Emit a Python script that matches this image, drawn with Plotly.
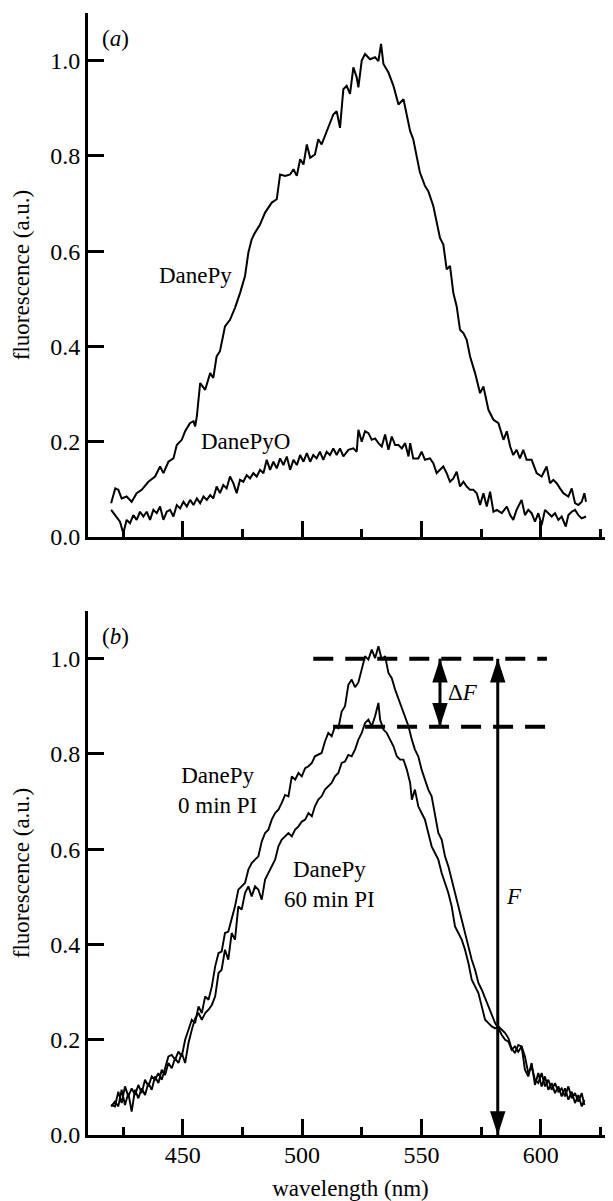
import plotly.graph_objects as go

# ---------------- data ----------------
# panel (a): DanePy
a_danepy_nm = [420.0, 421.7, 423.0, 424.4, 426.5, 428.6, 430.7, 432.8, 435.6, 438.4, 440.5, 441.9, 444.0, 446.1,
               447.5, 449.6, 451.0, 453.0, 454.5, 455.2, 455.9, 457.3, 459.4, 461.5, 462.8, 464.2, 465.6, 467.7,
               469.8, 471.9, 474.0, 476.1, 477.5, 478.9, 480.3, 482.4, 484.5, 487.3, 489.4, 490.8, 492.9, 495.0,
               496.4, 497.8, 499.2, 500.6, 502.0, 503.4, 505.4, 506.8, 508.2, 509.6, 511.0, 513.1, 514.5, 515.9,
               517.3, 518.7, 520.1, 521.5, 522.9, 523.6, 525.0, 526.4, 528.5, 530.6, 532.0, 533.1, 534.1, 536.2,
               538.3, 540.4, 542.5, 543.9, 545.3, 546.6, 548.0, 549.4, 551.5, 552.9, 555.0, 556.4, 557.8, 559.2,
               560.6, 562.0, 563.4, 564.8, 566.2, 567.6, 569.0, 570.4, 572.5, 574.6, 576.0, 578.1, 580.2, 582.3,
               584.4, 585.8, 587.2, 588.5, 589.9, 591.3, 592.7, 594.1, 596.2, 598.3, 600.4, 602.5, 603.9, 605.3,
               606.7, 608.1, 609.5, 611.6, 613.0, 614.4, 615.8, 617.2, 618.3, 619.0]
a_danepy_val = [0.071, 0.102, 0.099, 0.081, 0.085, 0.074, 0.092, 0.099, 0.116, 0.127, 0.148, 0.134, 0.158, 0.165,
                0.193, 0.204, 0.222, 0.239, 0.243, 0.232, 0.253, 0.323, 0.309, 0.344, 0.334, 0.379, 0.390, 0.442,
                0.456, 0.481, 0.512, 0.548, 0.597, 0.625, 0.639, 0.656, 0.681, 0.702, 0.709, 0.761, 0.758, 0.761,
                0.772, 0.758, 0.793, 0.782, 0.824, 0.796, 0.803, 0.835, 0.824, 0.842, 0.863, 0.887, 0.894, 0.859,
                0.940, 0.947, 0.930, 0.986, 0.965, 0.944, 1.000, 1.014, 1.003, 1.007, 0.999, 1.035, 0.993, 0.975,
                0.947, 0.908, 0.919, 0.887, 0.852, 0.835, 0.803, 0.765, 0.737, 0.726, 0.695, 0.663, 0.628, 0.614,
                0.562, 0.569, 0.512, 0.484, 0.435, 0.428, 0.414, 0.379, 0.344, 0.302, 0.316, 0.267, 0.246, 0.239,
                0.204, 0.222, 0.190, 0.172, 0.183, 0.165, 0.183, 0.162, 0.162, 0.134, 0.127, 0.148, 0.113, 0.120,
                0.113, 0.102, 0.092, 0.085, 0.102, 0.071, 0.067, 0.074, 0.092, 0.074]

# panel (a): DanePyO
a_danepyo_nm = [420.0, 421.0, 422.3, 423.7, 425.1, 426.5, 427.9, 429.3, 430.7, 432.1, 433.5, 434.9, 436.3, 437.7,
                439.1, 440.5, 441.9, 443.3, 444.7, 446.1, 447.5, 448.9, 450.3, 451.7, 453.1, 454.5, 455.9, 457.3,
                458.7, 460.1, 461.5, 462.8, 464.2, 465.6, 467.0, 468.4, 469.8, 471.2, 472.6, 474.0, 475.4, 476.8,
                478.2, 479.6, 481.0, 482.4, 483.8, 485.2, 486.6, 488.0, 489.4, 490.8, 492.2, 493.6, 495.0, 496.4,
                497.8, 499.2, 500.6, 502.0, 503.4, 504.7, 506.1, 507.5, 508.9, 510.3, 511.7, 513.1, 514.5, 515.9,
                517.3, 519.4, 521.5, 522.9, 523.6, 525.0, 526.4, 527.8, 529.2, 530.6, 532.0, 533.4, 534.8, 536.2,
                537.6, 539.0, 540.4, 541.8, 543.2, 544.6, 545.3, 546.6, 548.7, 550.1, 551.5, 553.6, 555.0, 556.4,
                557.8, 559.2, 560.6, 562.0, 563.4, 564.8, 566.2, 567.6, 569.0, 570.4, 571.8, 573.2, 574.6, 576.0,
                577.4, 578.8, 580.2, 581.6, 583.7, 585.8, 587.2, 588.5, 589.9, 592.0, 593.4, 594.8, 596.2, 597.6,
                599.0, 600.4, 601.8, 603.2, 604.6, 606.0, 607.4, 608.8, 610.5, 611.6, 613.0, 614.4, 615.8, 617.2,
                619.0]
a_danepyo_val = [0.057, 0.050, 0.043, 0.032, 0.008, 0.036, 0.029, 0.046, 0.036, 0.053, 0.043, 0.053, 0.036, 0.057,
                 0.050, 0.064, 0.036, 0.053, 0.057, 0.043, 0.067, 0.060, 0.074, 0.064, 0.078, 0.067, 0.081, 0.071,
                 0.085, 0.078, 0.088, 0.081, 0.106, 0.092, 0.109, 0.102, 0.127, 0.113, 0.092, 0.120, 0.116, 0.130,
                 0.123, 0.134, 0.127, 0.141, 0.134, 0.162, 0.141, 0.158, 0.144, 0.165, 0.151, 0.169, 0.141, 0.162,
                 0.151, 0.172, 0.158, 0.176, 0.158, 0.172, 0.165, 0.179, 0.162, 0.179, 0.172, 0.186, 0.172, 0.186,
                 0.169, 0.183, 0.186, 0.179, 0.225, 0.200, 0.222, 0.218, 0.204, 0.207, 0.197, 0.190, 0.215, 0.183,
                 0.211, 0.193, 0.193, 0.186, 0.197, 0.169, 0.197, 0.165, 0.165, 0.179, 0.162, 0.165, 0.155, 0.134,
                 0.141, 0.148, 0.134, 0.116, 0.123, 0.137, 0.106, 0.116, 0.106, 0.099, 0.099, 0.092, 0.067, 0.092,
                 0.064, 0.095, 0.053, 0.057, 0.050, 0.064, 0.046, 0.036, 0.057, 0.078, 0.046, 0.057, 0.050, 0.032,
                 0.050, 0.025, 0.057, 0.050, 0.043, 0.050, 0.036, 0.043, 0.022, 0.046, 0.053, 0.057, 0.046, 0.039,
                 0.043]

# panel (b): DanePy, 0 min PI
b_0min_nm = [420.0, 421.6, 423.0, 424.4, 425.8, 427.2, 428.6, 430.0, 431.4, 432.8, 434.2, 435.6, 437.0, 438.4,
             439.8, 441.2, 442.6, 444.0, 445.4, 446.8, 448.2, 449.6, 451.0, 452.4, 453.8, 455.2, 456.6, 458.0,
             459.4, 460.8, 462.2, 463.6, 465.0, 466.3, 467.7, 469.1, 470.5, 471.9, 473.3, 474.7, 476.1, 477.5,
             478.9, 480.3, 481.7, 483.1, 484.5, 485.9, 487.3, 488.7, 490.1, 491.5, 492.9, 494.3, 495.7, 497.1,
             498.5, 499.9, 501.3, 502.7, 504.1, 505.4, 506.8, 508.2, 509.6, 511.0, 512.4, 513.8, 515.2, 516.6,
             518.0, 519.4, 520.8, 522.2, 523.6, 525.0, 526.4, 527.8, 529.2, 530.6, 532.0, 533.4, 534.8, 536.2,
             537.6, 539.0, 541.1, 543.2, 544.6, 546.0, 547.3, 548.7, 550.1, 551.5, 552.9, 554.3, 555.7, 557.1,
             558.5, 559.9, 561.3, 562.7, 564.1, 565.5, 566.9, 568.3, 569.7, 571.1, 572.5, 573.9, 575.3, 576.7,
             578.1, 579.5, 580.9, 582.3, 583.7, 585.1, 586.5, 587.8, 589.2, 590.6, 592.0, 593.4, 594.8, 596.2,
             597.6, 599.0, 600.4, 601.8, 603.2, 604.6, 606.0, 607.4, 608.8, 610.2, 611.6, 613.0, 614.4, 615.8,
             617.2, 618.3]
b_0min_val = [0.063, 0.060, 0.091, 0.067, 0.102, 0.081, 0.098, 0.084, 0.105, 0.088, 0.116, 0.102, 0.123, 0.116,
              0.130, 0.116, 0.140, 0.165, 0.168, 0.158, 0.175, 0.165, 0.200, 0.221, 0.242, 0.235, 0.270, 0.256,
              0.291, 0.284, 0.312, 0.354, 0.382, 0.385, 0.424, 0.427, 0.455, 0.480, 0.515, 0.522, 0.529, 0.557,
              0.571, 0.578, 0.585, 0.616, 0.634, 0.641, 0.662, 0.676, 0.683, 0.697, 0.714, 0.711, 0.753, 0.746,
              0.760, 0.753, 0.770, 0.774, 0.781, 0.795, 0.798, 0.802, 0.826, 0.844, 0.837, 0.858, 0.854, 0.889,
              0.900, 0.945, 0.956, 0.940, 0.950, 0.977, 1.005, 0.998, 1.019, 1.001, 1.026, 0.998, 1.005, 0.970,
              0.959, 0.935, 0.907, 0.879, 0.858, 0.830, 0.809, 0.795, 0.767, 0.746, 0.725, 0.711, 0.676, 0.634,
              0.620, 0.585, 0.564, 0.536, 0.508, 0.480, 0.452, 0.424, 0.396, 0.368, 0.347, 0.319, 0.305, 0.287,
              0.270, 0.249, 0.235, 0.224, 0.210, 0.200, 0.196, 0.179, 0.186, 0.175, 0.186, 0.165, 0.130, 0.144,
              0.116, 0.109, 0.130, 0.102, 0.116, 0.095, 0.109, 0.091, 0.098, 0.081, 0.102, 0.077, 0.088, 0.070,
              0.088, 0.063]

# panel (b): DanePy, 60 min PI
b_60min_nm = [420.0, 421.6, 423.0, 424.4, 425.8, 427.2, 428.6, 430.0, 431.4, 432.8, 434.2, 435.6, 437.0, 438.4,
              439.8, 441.2, 442.6, 444.0, 445.4, 446.8, 448.2, 449.6, 451.0, 452.4, 453.8, 455.2, 456.6, 458.0,
              459.4, 460.8, 462.2, 463.6, 465.0, 466.3, 467.7, 469.1, 470.5, 471.9, 473.3, 474.7, 476.1, 477.5,
              478.9, 480.3, 481.7, 483.1, 484.5, 485.9, 487.3, 488.7, 490.1, 491.5, 492.9, 494.3, 495.7, 497.1,
              498.5, 499.9, 501.3, 502.7, 504.1, 505.4, 506.8, 508.2, 509.6, 511.0, 512.4, 513.8, 515.2, 516.6,
              518.0, 519.4, 520.8, 522.2, 523.6, 525.0, 526.4, 527.8, 529.2, 530.6, 532.0, 532.7, 534.1, 535.5,
              536.9, 538.3, 539.7, 541.1, 542.5, 543.9, 545.3, 546.0, 547.3, 548.7, 550.1, 551.5, 552.9, 554.3,
              555.7, 557.1, 558.5, 559.9, 561.3, 562.7, 564.1, 565.5, 566.9, 568.3, 569.7, 571.1, 572.5, 573.9,
              575.3, 576.7, 578.1, 579.5, 580.9, 582.3, 583.7, 585.1, 586.5, 587.8, 589.2, 590.6, 592.0, 593.4,
              594.8, 596.2, 597.6, 599.0, 600.4, 601.8, 603.2, 604.6, 606.0, 607.4, 608.8, 610.2, 611.6, 613.0,
              614.4, 615.8, 617.2, 618.3]
b_60min_val = [0.060, 0.070, 0.060, 0.095, 0.063, 0.088, 0.049, 0.095, 0.077, 0.098, 0.084, 0.109, 0.095, 0.123,
               0.109, 0.137, 0.126, 0.151, 0.140, 0.161, 0.151, 0.172, 0.151, 0.193, 0.221, 0.245, 0.256, 0.242,
               0.256, 0.263, 0.273, 0.291, 0.340, 0.347, 0.389, 0.368, 0.424, 0.410, 0.480, 0.473, 0.508, 0.522,
               0.501, 0.522, 0.515, 0.494, 0.536, 0.550, 0.564, 0.578, 0.606, 0.620, 0.627, 0.634, 0.627, 0.641,
               0.648, 0.658, 0.662, 0.676, 0.669, 0.690, 0.704, 0.711, 0.725, 0.732, 0.739, 0.753, 0.760, 0.781,
               0.784, 0.798, 0.795, 0.809, 0.830, 0.844, 0.865, 0.872, 0.858, 0.879, 0.907, 0.872, 0.851, 0.844,
               0.830, 0.816, 0.795, 0.788, 0.788, 0.767, 0.739, 0.704, 0.725, 0.690, 0.676, 0.662, 0.634, 0.606,
               0.592, 0.578, 0.550, 0.529, 0.508, 0.480, 0.438, 0.424, 0.410, 0.389, 0.361, 0.326, 0.312, 0.298,
               0.270, 0.242, 0.235, 0.228, 0.224, 0.228, 0.221, 0.214, 0.203, 0.182, 0.172, 0.189, 0.186, 0.137,
               0.123, 0.151, 0.105, 0.130, 0.102, 0.123, 0.095, 0.109, 0.088, 0.102, 0.081, 0.098, 0.074, 0.091,
               0.067, 0.084, 0.060, 0.074]

# annotation levels in panel (b)
F_level = 1.0            # peak level F
F_after = 0.857          # level after 60 min PI
F_dash_x = [504.7, 602.6]
F_after_dash_x = [513.0, 602.6]
dF_arrow_x = 557.8
F_arrow_x = 582.0

y_ticks = [0.0, 0.2, 0.4, 0.6, 0.8, 1.0]
x_ticks = [450, 500, 550, 600]

# ---------------- figure ----------------
# page body has an 8px margin: the figure is sized so the plot lands where the reference has it
FONT = "Liberation Serif, Times New Roman, Tinos, DejaVu Serif, serif"
BLACK = "#000000"
W, H = 605, 1193
ML, MR, MT, MB = 80, 0, 5, 66
ph = H - MT - MB
top_dom = [(1127 - 529) / ph, 1.0]
bot_dom = [0.0, (1127 - 603) / ph]

fig = go.Figure()

def curve(x, y, xa, ya, w=2.0):
    fig.add_trace(go.Scatter(x=x, y=y, xaxis=xa, yaxis=ya, mode="lines",
                             line=dict(color=BLACK, width=w), hoverinfo="skip", showlegend=False))

curve(a_danepy_nm, a_danepy_val, "x", "y")
curve(a_danepyo_nm, a_danepyo_val, "x", "y")
curve(b_0min_nm, b_0min_val, "x2", "y2", 1.9)
curve(b_60min_nm, b_60min_val, "x2", "y2", 1.9)

# dashed reference lines
for xs, lv in [(F_dash_x, F_level), (F_after_dash_x, F_after)]:
    fig.add_trace(go.Scatter(x=xs, y=[lv, lv], xaxis="x2", yaxis="y2", mode="lines",
                             line=dict(color=BLACK, width=4, dash="20px,12px"),
                             hoverinfo="skip", showlegend=False))

# double arrow for delta F and arrow for F
for ax_x, y0, y1 in [(dF_arrow_x, F_after, F_level), (F_arrow_x, 0.0, F_level)]:
    fig.add_trace(go.Scatter(x=[ax_x, ax_x], y=[y0, y1], xaxis="x2", yaxis="y2",
                             mode="lines+markers",
                             line=dict(color=BLACK, width=3),
                             marker=dict(symbol="arrow", size=25, angle=[180, 0], color=BLACK,
                                         line=dict(width=0)),
                             hoverinfo="skip", showlegend=False))

axis_common = dict(
    showline=True, linewidth=3, linecolor=BLACK, showgrid=False, zeroline=False,
    ticks="inside", tickcolor=BLACK, tickfont=dict(family=FONT, size=24, color=BLACK),
)
xminor = dict(dtick=25, tick0=425, ticklen=8, tickwidth=2.5, ticks="inside", tickcolor=BLACK)
title_font = dict(family=FONT, size=23, color=BLACK)

fig.update_layout(
    width=W, height=H,
    margin=dict(l=ML, r=MR, t=MT, b=MB),
    paper_bgcolor="white", plot_bgcolor="white",
    showlegend=False,
    font=dict(family=FONT, color=BLACK, size=23),
    xaxis=dict(domain=[0, 1], anchor="y", range=[410.3, 630.3], tickvals=x_ticks,
               showticklabels=False, ticklen=16, tickwidth=2.5, minor=xminor, **axis_common),
    yaxis=dict(domain=top_dom, anchor="x", range=[0, 1.1], tickvals=y_ticks, tickformat=".1f",
               ticklen=16, tickwidth=2.5,
               title=dict(text="fluorescence (a.u.)", font=title_font, standoff=15),
               **axis_common),
    xaxis2=dict(domain=[0, 1], anchor="y2", range=[410.3, 630.3], tickvals=x_ticks,
                ticklen=16, tickwidth=2.5, minor=xminor, ticklabelstandoff=-4,
                title=dict(text="wavelength (nm)", font=title_font, standoff=14),
                **axis_common),
    yaxis2=dict(domain=bot_dom, anchor="x2", range=[0, 1.1], tickvals=y_ticks, tickformat=".1f",
                ticklen=16, tickwidth=2.5,
                title=dict(text="fluorescence (a.u.)", font=title_font, standoff=15),
                **axis_common),
)

def label(text, x, y, xref, yref):
    fig.add_annotation(text=text, x=x, y=y, xref=xref, yref=yref, showarrow=False,
                       xanchor="center", yanchor="middle",
                       font=dict(family=FONT, size=23, color=BLACK))

label("(<i>a</i>)", 421.8, 1.047, "x", "y")
label("(<i>b</i>)", 421.8, 1.047, "x2", "y2")
label("DanePy", 455.4, 0.549, "x", "y")
label("DanePyO", 476.5, 0.201, "x", "y")
label("DanePy<br>0 min PI", 464.6, 0.723, "x2", "y2")
label("DanePy<br>60 min PI", 511.7, 0.525, "x2", "y2")
label("Δ<i>F</i>", 567.5, (F_level + F_after) / 2, "x2", "y2")
label("<i>F</i>", 588.8, 0.50, "x2", "y2")

fig.write_html("out.html")
